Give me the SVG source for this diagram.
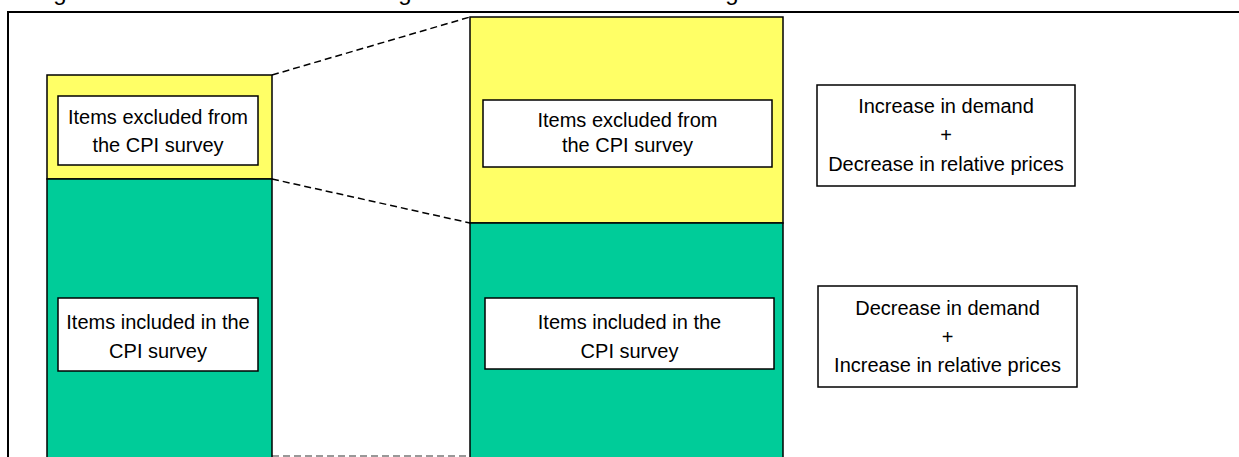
<svg xmlns="http://www.w3.org/2000/svg" width="1239" height="457" viewBox="0 0 1239 457">
<style>
text{font-family:"Liberation Sans",Arial,sans-serif;font-size:20px;fill:#000;text-anchor:middle}
.box{fill:#fff;stroke:#000;stroke-width:1.5}
.yel{fill:#FFFF66;stroke:#000;stroke-width:1.5}
.grn{fill:#00CC99;stroke:#000;stroke-width:1.5}
.dash{fill:none;stroke:#000;stroke-width:1.5;stroke-dasharray:7 4}
.title{font-size:24px}
</style>
<rect width="1239" height="457" fill="#fff"/>
<g id="title-fragments">
<text class="title" x="60" y="0">g</text>
<text class="title" x="405" y="0">g</text>
<text class="title" x="732" y="0">g</text>
</g>
<g id="frame"><path d="M8 458 V12 H1240" fill="none" stroke="#000" stroke-width="2"/></g>
<g id="connectors">
<line class="dash" x1="272" y1="75" x2="470" y2="17"/>
<line class="dash" x1="272" y1="179" x2="470" y2="223"/>
<line class="dash" x1="272" y1="456" x2="470" y2="456" stroke="#777" style="stroke:#777"/>
</g>
<g id="left-bar">
<rect class="yel" x="47" y="75" width="225" height="104"/>
<rect class="grn" x="47" y="179" width="225" height="290"/>
</g>
<g id="left-excluded">
<rect class="box" x="58" y="96" width="200" height="69"/>
<text x="158" y="124">Items excluded from</text>
<text x="158" y="152">the CPI survey</text>
</g>
<g id="left-included">
<rect class="box" x="58" y="298" width="200" height="73"/>
<text x="158" y="329">Items included in the</text>
<text x="158" y="358">CPI survey</text>
</g>
<g id="right-bar">
<rect class="yel" x="470" y="17" width="313" height="206"/>
<rect class="grn" x="470" y="223" width="313" height="246"/>
</g>
<g id="right-excluded">
<rect class="box" x="483" y="100" width="289" height="67"/>
<text x="627.5" y="127">Items excluded from</text>
<text x="627.5" y="152">the CPI survey</text>
</g>
<g id="right-included">
<rect class="box" x="485" y="298" width="289" height="71"/>
<text x="629.5" y="329">Items included in the</text>
<text x="629.5" y="358">CPI survey</text>
</g>
<g id="increase-box">
<rect class="box" x="817" y="85" width="258" height="101"/>
<text x="946" y="113">Increase in demand</text>
<text x="946" y="142">+</text>
<text x="946" y="171">Decrease in relative prices</text>
</g>
<g id="decrease-box">
<rect class="box" x="818" y="286" width="259" height="101"/>
<text x="947.5" y="315">Decrease in demand</text>
<text x="947.5" y="344">+</text>
<text x="947.5" y="372">Increase in relative prices</text>
</g>
</svg>
